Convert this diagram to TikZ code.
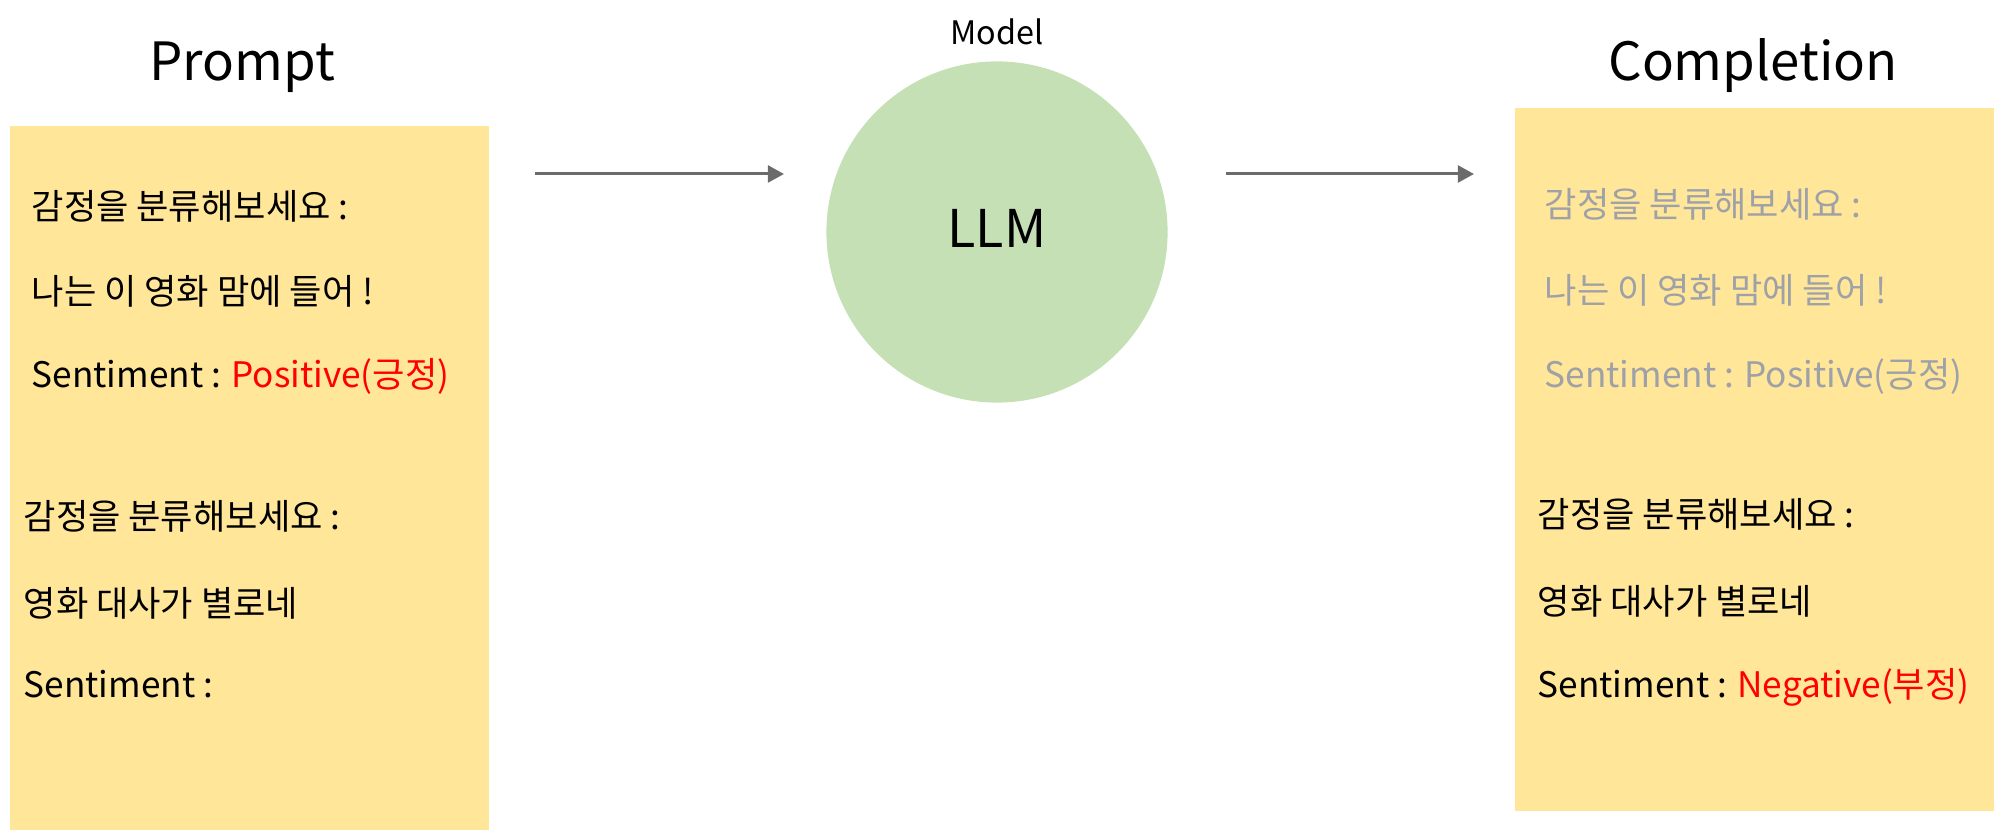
\documentclass[tikz,border=0pt]{standalone}
\usepackage{fontspec}
\setmainfont{Noto Sans CJK KR}
\usetikzlibrary{arrows.meta,positioning,calc}
\definecolor{boxyellow}{HTML}{FFE699}
\definecolor{llmgreen}{HTML}{C5E0B4}
\definecolor{arrowgray}{HTML}{6B6B6B}
\definecolor{fadegray}{HTML}{9EA1A8}
\definecolor{answerred}{HTML}{FF0000}

\begin{document}
\begin{tikzpicture}[
  x=0.01cm, y=-0.01cm,
  panel/.style={fill=boxyellow, draw=none, minimum width=4.79cm, minimum height=7.04cm, anchor=north west, inner sep=0pt},
  heading/.style={anchor=base, inner sep=0pt, font=\fontsize{15}{18}\selectfont},
  line/.style={anchor=base west, inner sep=0pt, font=\fontsize{10}{12}\selectfont},
  faded/.style={line, text=fadegray},
  flow/.style={draw=arrowgray, line width=0.85pt, -{Triangle[length=4.6pt,width=4.8pt]}}
]
\useasboundingbox (0,0) rectangle (2000,831);

% panels and titles
\node[panel] (prompt) at (9,125) {};
\node[panel, minimum height=7.03cm] (completion) at (1514,107) {};
\node[heading] (promptT) at (242,81) {Prompt};
\node[heading] (completionT) at (1753,81) {Completion};

% model
\node[circle, fill=llmgreen, minimum size=3.41cm, inner sep=0pt] (llm) at (997,232) {};
\node[anchor=base, inner sep=0pt, font=\fontsize{14.8}{18}\selectfont] (llmT) at (997,248) {LLM};
\node[anchor=base, inner sep=0pt, font=\fontsize{9.2}{11}\selectfont] (modelT) at (997,45) {Model};

% prompt text
\node[line] (p1) at (31,220) {감정을 분류해보세요 :};
\node[line] (p2) at (31,305) {나는 이 영화 맘에 들어 !};
\node[line] (p3) at (31,388) {Sentiment : \textcolor{answerred}{Positive(긍정)}};
\node[line] (p4) at (23,530) {감정을 분류해보세요 :};
\node[line] (p5) at (23,617) {영화 대사가 별로네};
\node[line] (p6) at (23,698) {Sentiment :};

% completion text
\node[faded] (c1) at (1544,218) {감정을 분류해보세요 :};
\node[faded] (c2) at (1544,304) {나는 이 영화 맘에 들어 !};
\node[faded] (c3) at (1544,388) {Sentiment : Positive(긍정)};
\node[line] (c4) at (1537,528) {감정을 분류해보세요 :};
\node[line] (c5) at (1537,615) {영화 대사가 별로네};
\node[line] (c6) at (1537,698) {Sentiment : \textcolor{answerred}{Negative(부정)}};

% arrows
\coordinate (inS) at (535,174);
\coordinate (inE) at (784,174);
\coordinate (outS) at (1226,174);
\coordinate (outE) at (1474,174);
\draw[flow] (inS) -- (inE);
\draw[flow] (outS) -- (outE);
\end{tikzpicture}
\end{document}
